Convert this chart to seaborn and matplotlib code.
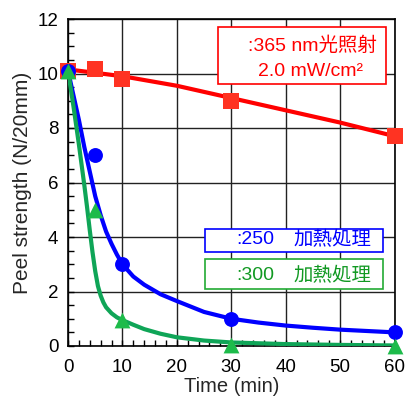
import matplotlib
matplotlib.use("Agg")
import matplotlib.pyplot as plt
import seaborn as sns
import pandas as pd
from matplotlib.patches import Rectangle
from matplotlib.ticker import MultipleLocator

# ---- data ----
time_pts = [0, 5, 10, 30, 60]
uv_pts = [10.1, 10.15, 9.8, 9.0, 7.7]
heat250_pts = [10.1, 7.0, 3.0, 1.0, 0.5]
heat300_pts = [10.1, 5.0, 0.95, 0.05, 0.0]

# fitted trend curves
uv_fit_t = [0, 10, 20, 30, 40, 50, 60]
uv_fit_v = [10.15, 9.9, 9.55, 9.1, 8.65, 8.2, 7.7]
h250_fit_t = [0, 1, 2, 3, 4, 5, 6, 7, 8, 9, 10, 12, 14, 17, 20, 25, 30, 35, 40, 45, 50, 55, 60]
h250_fit_v = [10.1, 9.2, 8.3, 7.3, 6.4, 5.5, 4.8, 4.2, 3.75, 3.35, 3.0, 2.55, 2.25, 1.9, 1.65,
              1.25, 1.0, 0.86, 0.75, 0.67, 0.6, 0.55, 0.5]
h300_fit_t = [0, 1, 2, 3, 3.5, 4, 4.5, 5, 5.5, 6, 6.5, 7, 8, 9, 10, 12, 14, 17, 20, 25, 30, 40, 50, 60]
h300_fit_v = [10.1, 8.8, 7.4, 5.9, 5.1, 4.25, 3.45, 2.75, 2.2, 1.85, 1.6, 1.42, 1.2, 1.05, 0.95,
              0.78, 0.62, 0.45, 0.32, 0.2, 0.13, 0.07, 0.04, 0.02]

x_ticks = [0, 10, 20, 30, 40, 50, 60]
y_ticks = [0, 2, 4, 6, 8, 10, 12]

uv_label1 = ":365 nm光照射"
uv_label2 = "2.0 mW/cm²"
h250_num, h300_num, heat_text = ":250", ":300", "加熱処理"

sns.set_style("ticks")
fams = ["Liberation Sans", "Noto Sans CJK JP", "DejaVu Sans"]
plt.rcParams["font.family"] = fams

fig = plt.figure(figsize=(4.08, 4.0), dpi=100)
ax = fig.add_axes([68 / 408, 1 - 346 / 400, 326.5 / 408, 327 / 400])

RED_L, RED_M = "#FF0000", "#FF3322"
BLUE = "#0000FF"
GRN_L, GRN_M = "#0FA557", "#1DBB4A"

curves = [
    (uv_fit_t, uv_fit_v, RED_L),
    (h250_fit_t, h250_fit_v, BLUE),
    (h300_fit_t, h300_fit_v, GRN_L),
]
marks = [
    (uv_pts, RED_M, "s", 125),
    (heat250_pts, BLUE, "o", 115),
    (heat300_pts, GRN_M, "^", 130),
]
for i, ((ft, fv, lc), (pv, mc, mk, ms)) in enumerate(zip(curves, marks)):
    sns.lineplot(x=ft, y=fv, color=lc, lw=3, ax=ax, zorder=3 + 2 * i)
    sns.scatterplot(x=time_pts, y=pv, color=mc, marker=mk, s=ms, linewidth=0,
                    ax=ax, zorder=4 + 2 * i, clip_on=False)
for c in ax.collections:
    c.set_clip_on(False)

ax.set_xlim(0, 60)
ax.set_ylim(0, 12)
ax.set_xticks(x_ticks)
ax.set_yticks(y_ticks)
ax.xaxis.set_minor_locator(MultipleLocator(2))
ax.yaxis.set_minor_locator(MultipleLocator(0.5))
ax.tick_params(which="both", direction="in", length=4, width=1, colors="black",
               labelsize=13.5, pad=7)
ax.tick_params(axis="x", which="both", pad=9)
ax.grid(True, which="major", color="#222222", lw=1)
for s in ax.spines.values():
    s.set_linewidth(1.2)
    s.set_color("black")
ax.set_xlabel("Time (min)", fontsize=14.5, labelpad=1)
ax.set_ylabel("Peel strength (N/20mm)", fontsize=15, labelpad=4)

def px(x, y):
    return ((x - 68) / 326.5, (346 - y) / 327)

def box(x0, y0, x1, y1, col):
    a0 = px(x0, y1)
    a1 = px(x1, y0)
    ax.add_patch(Rectangle(a0, a1[0] - a0[0], a1[1] - a0[1], transform=ax.transAxes,
                           facecolor="white", edgecolor=col, lw=1.2, zorder=2.5))

FS = 14
box(218, 27, 386, 84, RED_L)
ax.text(*px(312, 46), uv_label1, transform=ax.transAxes, ha="center", va="center",
        color=RED_L, fontsize=FS, zorder=10)
ax.text(*px(310, 71), uv_label2, transform=ax.transAxes, ha="center", va="center",
        color=RED_L, fontsize=FS, zorder=10)

box(205, 229, 383, 252, BLUE)
ax.text(*px(236, 240), h250_num, transform=ax.transAxes, ha="left", va="center",
        color=BLUE, fontsize=FS, zorder=10)
ax.text(*px(293, 240), heat_text, transform=ax.transAxes, ha="left", va="center",
        color=BLUE, fontsize=FS, zorder=10)

box(205, 259, 383, 289, "#22AA33")
ax.text(*px(236, 276), h300_num, transform=ax.transAxes, ha="left", va="center",
        color="#119922", fontsize=FS, zorder=10)
ax.text(*px(293, 276), heat_text, transform=ax.transAxes, ha="left", va="center",
        color="#119922", fontsize=FS, zorder=10)

fig.savefig("out.png", dpi=100)
